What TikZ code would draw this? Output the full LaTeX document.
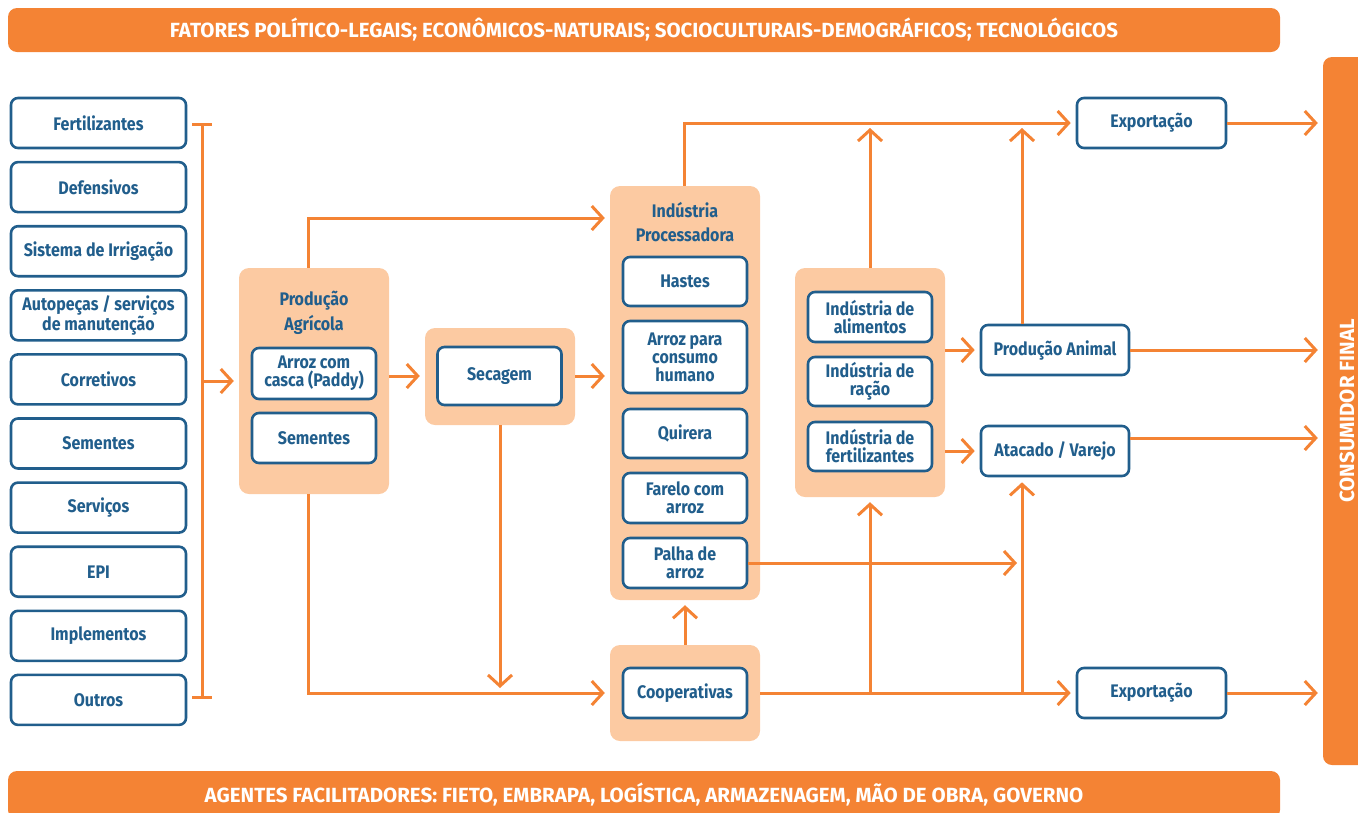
\documentclass[tikz,border=0pt]{standalone}
\usepackage{fontspec}
\setmainfont{Fira Sans}[FakeStretch=0.88]
\newfontfamily\bannerfont{Fira Sans}
\usetikzlibrary{arrows.meta,positioning}
\definecolor{laranja}{RGB}{244,131,52}
\definecolor{pessego}{RGB}{252,202,162}
\definecolor{azul}{RGB}{33,94,140}

\begin{document}
\begin{tikzpicture}[x=1pt,y=-1pt,
      mybox/.style={
         rectangle,
         rounded corners=7pt,
         draw=azul,
         line width=2.6pt,
         fill=white,
         text=azul,
         align=center,
         inner sep=0pt,
         minimum width=124pt,
         minimum height=50pt,
         font=\bfseries\fontsize{18.2}{18}\selectfont},
      mygroup/.style={
         rectangle,
         rounded corners=10pt,
         fill=pessego,
         minimum width=150pt},
      mytitle/.style={
         text=azul,
         align=center,
         font=\bfseries\fontsize{18.2}{24.5}\selectfont},
      mybanner/.style={
         rectangle,
         rounded corners=9pt,
         fill=laranja,
         text=white,
         font=\bannerfont\bfseries\fontsize{20.5}{22}\selectfont},
      myline/.style={draw=laranja,line width=3pt},
      myarrow/.style={myline,-{Straight Barb[length=11pt,width=24pt]},shorten >=5pt},
      ]
      \useasboundingbox (0,0) rectangle (1358,812);
      \node[mybanner, minimum width=1272pt, minimum height=44pt] (fatores) at (644,30) {FATORES POLÍTICO-LEGAIS; ECONÔMICOS-NATURAIS; SOCIOCULTURAIS-DEMOGRÁFICOS; TECNOLÓGICOS};
      \node[mybanner, minimum width=1272pt, minimum height=48pt] (agentes) at (644,795) {AGENTES FACILITADORES: FIETO, EMBRAPA, LOGÍSTICA, ARMAZENAGEM, MÃO DE OBRA, GOVERNO};
      \node[mybanner, minimum width=48pt, minimum height=708pt] (cons) at (1347,411) {};
      \node[mybanner, fill=none, rotate=90] (constxt) at (1347,411) {CONSUMIDOR FINAL};
    \foreach \n/\t [count=\k from 0] in {
      fert/Fertilizantes,
      def/Defensivos,
      irr/Sistema de Irrigação,
      aut/{Autopeças / serviços\\de manutenção},
      corr/Corretivos,
      sementes/Sementes,
      serv/Serviços,
      epi/EPI,
      impl/Implementos,
      outros/Outros}
       \node[mybox, minimum width=175pt] (\n) at (98.5,123+64.1*\k) {\t};
      \coordinate (brtop) at (202,124);
      \coordinate (brbot) at (202,697);
      \node[mygroup, minimum height=226pt] (prod) at (314,381) {};
      \node[mytitle] (prodtit) at (314,313) {Produção\\Agrícola};
      \node[mybox, minimum height=51pt] (paddy) at (314,373.5) {Arroz com\\casca (Paddy)};
      \node[mybox] (semprod) at (314,438) {Sementes};
      \node[mygroup, minimum height=97pt] (secg) at (500,376.5) {};
      \node[mybox, minimum height=58pt] (sec) at (499.5,376) {Secagem};
      \node[mygroup, minimum height=414pt] (indg) at (685,393) {};
      \node[mytitle] (indtit) at (685,222) {Indústria\\Processadora};
      \node[mybox, minimum height=49pt] (hastes) at (685,281.5) {Hastes};
      \node[mybox, minimum height=72pt] (consumo) at (685,357) {Arroz para\\consumo\\humano};
      \node[mybox, minimum height=49pt] (quirera) at (685,433.5) {Quirera};
      \node[mybox] (farelo) at (685,498) {Farelo com\\arroz};
      \node[mybox] (palha) at (685,563) {Palha de\\arroz};
      \node[mygroup, minimum height=96pt] (coopg) at (685,693) {};
      \node[mybox] (coop) at (685,693) {Cooperativas};
      \node[mygroup, minimum height=229pt] (indusg) at (870,382.5) {};
      \node[mybox] (alim) at (870,317) {Indústria de\\alimentos};
      \node[mybox, minimum height=49pt] (racao) at (870,381.5) {Indústria de\\ração};
      \node[mybox, minimum height=49pt] (fertind) at (870,446.5) {Indústria de\\fertilizantes};
      \node[mybox, minimum width=148pt] (panim) at (1055,350) {Produção Animal};
      \node[mybox, minimum width=148pt] (ata) at (1055,451) {Atacado / Varejo};
      \node[mybox, minimum width=149pt] (exp1) at (1151.5,123) {Exportação};
      \node[mybox, minimum width=149pt] (exp2) at (1151.5,693) {Exportação};
      \draw[myline] ([xshift=-10pt]brtop) -- ([xshift=10pt]brtop) (brtop) -- (brbot)
         ([xshift=-10pt]brbot) -- ([xshift=10pt]brbot);
      \draw[myarrow] (brtop |- prod.west) -- (prod.west);
      \draw[myarrow] ([xshift=-6pt]prod.north) |- ([yshift=175pt]indg.west);
      \draw[myarrow] ([xshift=-6pt]prod.south) |- (coopg.west);
      \draw[myarrow] (secg.south) -- (secg.south |- coopg.west);
      \draw[myarrow] (prod.east |- sec) -- (secg.west |- sec);
      \draw[myarrow] (secg.east |- sec) -- (indg.west |- sec);
      \draw[myarrow] ([xshift=-1pt]indg.north) |- (exp1.west);
      \draw[myarrow] (coopg.north) -- (indg.south);
      \draw[myarrow] (coopg.east) -- (exp2.west);
      \draw[myarrow] (indusg.south |- coopg.east) -- (indusg.south);
      \draw[myarrow] ([xshift=-33pt]ata.south |- coopg.east) -- ([xshift=-33pt]ata.south);
      \draw[myarrow] (palha.east) -- ([xshift=-33pt]ata.south |- palha.east);
      \draw[myarrow] (indusg.north) -- (indusg.north |- exp1.west);
      \draw[myarrow] ([xshift=-33pt]panim.north) -- ([xshift=-33pt]panim.north |- exp1.west);
      \draw[myarrow] (indusg.east |- panim) -- (panim);
      \draw[myarrow] (indusg.east |- ata) -- (ata);
      \draw[myarrow] ([yshift=13pt]ata.east) -- ([yshift=13pt]cons.west |- ata.east);
    \foreach \i in {exp1,panim,exp2}
       \draw[myarrow] (\i.east) -- (cons.west |- \i.east);
\end{tikzpicture}
\end{document}
